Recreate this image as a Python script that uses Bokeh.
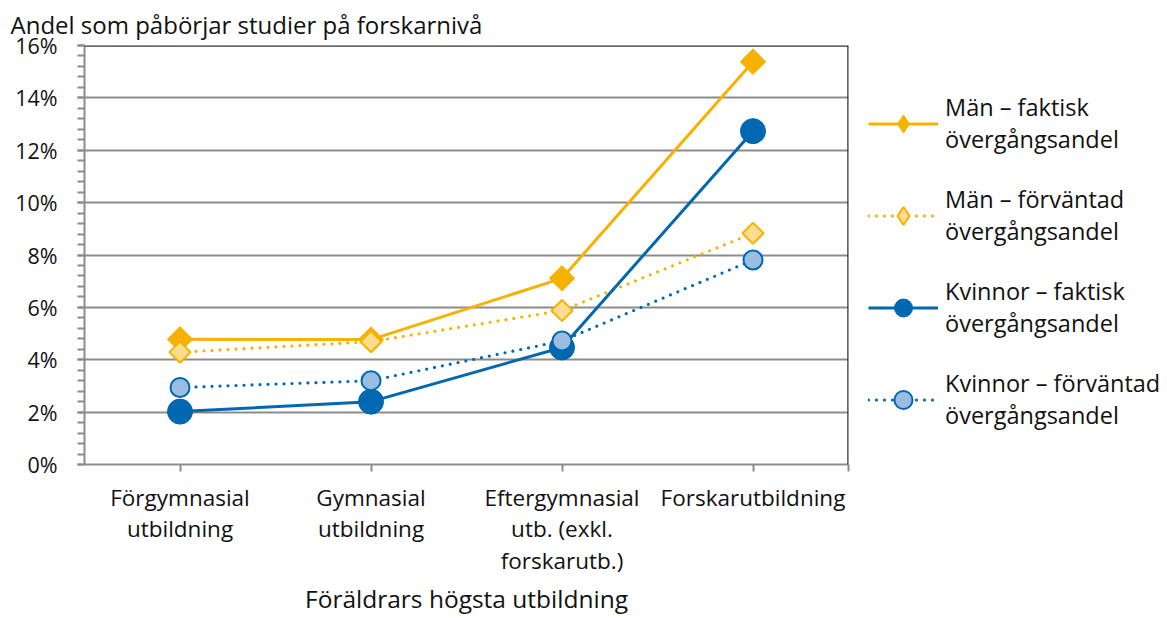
import math
from bokeh.plotting import figure
from bokeh.models import FixedTicker, Span, Legend, LegendItem
from bokeh.embed import file_html
from bokeh.resources import INLINE

# ---- data ----
categories = ["Förgymnasial\nutbildning", "Gymnasial\nutbildning",
              "Eftergymnasial\nutb. (exkl.\nforskarutb.)", "Forskarutbildning"]
x_pos = [1, 2, 3, 4]
man_faktisk = [4.78, 4.77, 7.11, 15.38]
man_forvantad = [4.29, 4.69, 5.88, 8.83]
kvinnor_faktisk = [2.02, 2.40, 4.47, 12.73]
kvinnor_forvantad = [2.94, 3.20, 4.72, 7.81]
y_ticks = [0, 2, 4, 6, 8, 10, 12, 14, 16]
y_tick_labels = ["0%", "2%", "4%", "6%", "8%", "10%", "12%", "14%", "16%"]
series_names = ["Män – faktisk\növergångsandel", "Män – förväntad\növergångsandel",
                "Kvinnor – faktisk\növergångsandel", "Kvinnor – förväntad\növergångsandel"]

YEL = "#F7B200"
BLU = "#0067B1"
FONT = "Open Sans"
GRID = "#8C8C8C"
TXT = "#111111"

p = figure(frame_width=764, frame_height=419, x_range=(0.5, 4.5), y_range=(0, 16),
           output_backend="svg", toolbar_location=None,
           min_border_left=84, min_border_top=44, min_border_bottom=153, min_border_right=300)
p.outline_line_color = None
p.background_fill_color = "white"

# title
p.title.text = "Andel som påbörjar studier på forskarnivå"
p.title.text_font = FONT
p.title.text_font_size = "24px"
p.title.text_font_style = "normal"
p.title.text_color = TXT
p.title.align = "left"
p.title.offset = -74
p.title.standoff = 10

# y axis
p.yaxis.ticker = FixedTicker(ticks=y_ticks, minor_ticks=[i * 0.4 for i in range(41)])
p.yaxis.major_label_overrides = {t: l for t, l in zip(y_ticks, y_tick_labels)}
p.yaxis.major_label_text_font = FONT
p.yaxis.major_label_text_font_size = "21.5px"
p.yaxis.major_label_text_color = TXT
p.yaxis.axis_line_color = GRID
p.yaxis.axis_line_width = 2
p.yaxis.major_tick_line_color = GRID
p.yaxis.minor_tick_line_color = GRID
p.yaxis.major_tick_line_width = 2
p.yaxis.minor_tick_line_width = 2
p.yaxis.major_tick_in = 0
p.yaxis.major_tick_out = 7
p.yaxis.minor_tick_in = 0
p.yaxis.minor_tick_out = 7
p.yaxis.major_label_standoff = 20

# x axis
p.xaxis.ticker = FixedTicker(ticks=x_pos + [4.5])
p.xaxis.major_label_overrides = {**{x: c for x, c in zip(x_pos, categories)}, 4.5: ""}
p.xaxis.major_label_text_font = FONT
p.xaxis.major_label_text_font_size = "22.5px"
p.xaxis.major_label_text_color = TXT
p.xaxis.major_label_text_line_height = 1.02
p.xaxis.axis_line_color = GRID
p.xaxis.axis_line_width = 2
p.xaxis.major_tick_line_color = GRID
p.xaxis.major_tick_line_width = 2
p.xaxis.major_tick_in = 0
p.xaxis.major_tick_out = 7
p.xaxis.minor_tick_line_color = None
p.xaxis.major_label_standoff = 10
p.xaxis.axis_label = "Föräldrars högsta utbildning"
p.xaxis.axis_label_text_font = FONT
p.xaxis.axis_label_text_font_size = "24.5px"
p.xaxis.axis_label_text_font_style = "normal"
p.xaxis.axis_label_text_color = TXT
p.xaxis.axis_label_standoff = 3

# grid
p.xgrid.grid_line_color = None
p.ygrid.grid_line_color = GRID
p.ygrid.grid_line_width = 2

# frame borders top/right
p.add_layout(Span(location=16, dimension="width", line_color="#333333", line_width=2.5))
p.add_layout(Span(location=4.5, dimension="height", line_color="#333333", line_width=2.5))

man_hatch = dict(fill_color="#FCDC8E", line_color=YEL, line_width=2,
                 hatch_pattern="checker", hatch_color=YEL, hatch_scale=3, hatch_alpha=0.8)
kv_hatch = dict(fill_color="#9CBDE2", line_color=BLU, line_width=2,
                hatch_pattern="checker", hatch_color=BLU, hatch_scale=3, hatch_alpha=0.6)

items = []
# Män faktisk
l1 = p.line(x_pos, man_faktisk, line_color=YEL, line_width=3)
m1 = p.scatter(x_pos, man_faktisk, marker="square", angle=math.pi / 4, size=18,
               fill_color=YEL, line_color=YEL, line_width=1)
k1 = p.scatter(x_pos, man_faktisk, marker="diamond", size=18, visible=False,
               fill_color=YEL, line_color=YEL, line_width=1)
items.append(LegendItem(label=series_names[0], renderers=[l1, k1]))
# Män förväntad
l2 = p.line(x_pos, man_forvantad, line_color=YEL, line_width=3.2, line_dash="0 8", line_cap="round")
m2 = p.scatter(x_pos, man_forvantad, marker="square", angle=math.pi / 4, size=15, **man_hatch)
k2 = p.scatter(x_pos, man_forvantad, marker="diamond", size=15, visible=False, **man_hatch)
items.append(LegendItem(label=series_names[1], renderers=[l2, k2]))
# Kvinnor faktisk
l3 = p.line(x_pos, kvinnor_faktisk, line_color=BLU, line_width=3)
m3 = p.scatter(x_pos, kvinnor_faktisk, marker="circle", size=25,
               fill_color=BLU, line_color=BLU, line_width=1)
items.append(LegendItem(label=series_names[2], renderers=[l3, m3]))
# Kvinnor förväntad
l4 = p.line(x_pos, kvinnor_forvantad, line_color=BLU, line_width=3.2, line_dash="0 8", line_cap="round")
m4 = p.scatter(x_pos, kvinnor_forvantad, marker="circle", size=19, **kv_hatch)
items.append(LegendItem(label=series_names[3], renderers=[l4, m4]))

legend = Legend(items=items, location=(20, 33), border_line_color=None,
                background_fill_alpha=0, margin=0, padding=0, spacing=28,
                glyph_width=70, glyph_height=45, label_standoff=7,
                label_text_font=FONT, label_text_font_size="23.5px",
                label_text_color=TXT)
p.add_layout(legend, "right")

open("out.html", "w").write(file_html(p, INLINE))
